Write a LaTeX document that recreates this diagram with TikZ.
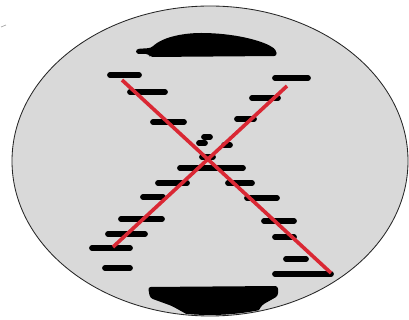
\documentclass[tikz,border=0pt]{standalone}
\definecolor{crossred}{RGB}{218,40,52}
\definecolor{plategray}{RGB}{217,217,217}
\tikzset{bar/.style={line width=4.1pt,line cap=round},
	cross/.style={crossred,line width=2.6pt}}
\begin{document}
\begin{tikzpicture}[x=0.025cm,y=-0.025cm]
	\useasboundingbox (0,0) rectangle (409,320);
	% plate
	\draw[fill=plategray,draw=black!85,line width=0.6pt] (210,161) ellipse (198 and 155);
	\draw[black!35,line width=0.5pt] (1,27)--(6,25);
	% top blob
	\fill[rounded corners=2] (136,49) -- (151,48) .. controls (164,36) and (186,33) .. (204,33)
		.. controls (240,34) and (266,42) .. (276,50) -- (277,56) -- (150,57) -- (149,54) -- (136,54) -- cycle;
	% bottom blob, cut by the rim
	\begin{scope}
		\clip (210,161) ellipse (197 and 154);
		\fill[rounded corners=2] (148,287) -- (278,286) -- (278,296) -- (262,305) -- (253,320)
			-- (197,320) -- (172,306) -- (150,298) -- cycle;
	\end{scope}
	% dashes
	\foreach \a/\b/\y in {110/139/75, 130/165/92, 153/184/122, 275/308/78, 252/278/98, 237/254/119,
		204/210/137, 199/205/143, 224/230/145, 202/213/157, 180/243/168,
		158/187/183, 228/252/183, 143/163/197, 247/277/198, 121/162/219, 264/294/221,
		108/145/234, 275/294/237, 92/130/248, 286/306/259, 105/130/268, 275/331/274}
		\draw[bar] (\a,\y) -- (\b,\y);
	% the cross
	\coordinate (tl) at (122,80);
	\coordinate (br) at (331,273);
	\coordinate (tr) at (287,86);
	\coordinate (bl) at (113,247);
	\draw[cross] (tl) -- (br);
	\draw[cross] (tr) -- (bl);
\end{tikzpicture}
\end{document}
